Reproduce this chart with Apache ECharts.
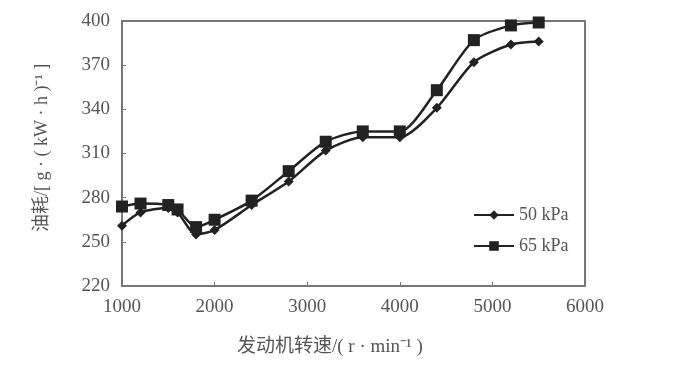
<!DOCTYPE html>
<html><head><meta charset="utf-8">
<script src="https://cdn.jsdelivr.net/npm/echarts@6/dist/echarts.min.js"></script>
<style>html,body{margin:0;padding:0;background:#fff}#c{width:673px;height:374px}</style>
</head><body><div id="c"></div>
<script>
const speeds50 = [1000, 1200, 1500, 1600, 1800, 2000, 2400, 2800, 3200, 3600, 4000, 4400, 4800, 5200, 5500];
const fuel50   = [261, 270, 273, 270, 255, 258, 275, 291, 312, 321, 321, 341, 372, 384, 386];
const speeds65 = [1000, 1200, 1500, 1600, 1800, 2000, 2400, 2800, 3200, 3600, 4000, 4400, 4800, 5200, 5500];
const fuel65   = [274, 276, 275, 272, 260, 265, 278, 298, 318, 325, 325, 353, 387, 397, 399];
const seriesNames = ['50 kPa', '65 kPa'];
const xTitle = '发动机转速/( r · min⁻¹ )';
const yTitle = '油耗/[ g · ( kW · h )⁻¹ ]';

const serif = '"Liberation Serif","DejaVu Serif",serif';
const mixed = '"Liberation Serif","Noto Sans CJK SC",serif';
const txt = '#555';
const axisCol = '#777';

const chart = echarts.init(document.getElementById('c'));
chart.setOption({
  animation: false,
  backgroundColor: '#fff',
  grid: {left: 122, right: 88, top: 21, bottom: 88, show: true, borderColor: axisCol, borderWidth: 2},
  legend: {
    orient: 'vertical', left: 468, top: 201, itemWidth: 40, itemHeight: 12, itemGap: 13,
    textStyle: {fontFamily: serif, fontSize: 18, color: txt},
    data: seriesNames
  },
  xAxis: {
    type: 'value', min: 1000, max: 6000, interval: 1000,
    axisLine: {show: true, lineStyle: {color: axisCol, width: 2}},
    axisTick: {show: true, inside: true, length: 4, lineStyle: {color: axisCol}},
    axisLabel: {fontFamily: serif, fontSize: 19, color: txt, margin: 12, formatter: v => String(v)},
    splitLine: {show: false}
  },
  yAxis: {
    type: 'value', min: 220, max: 400, interval: 30,
    axisLine: {show: true, lineStyle: {color: axisCol, width: 2}},
    axisTick: {show: true, inside: true, length: 4, lineStyle: {color: axisCol}},
    axisLabel: {fontFamily: serif, fontSize: 19, color: txt, margin: 12, formatter: v => String(v)},
    splitLine: {show: false}
  },
  graphic: [
    {type: 'text', x: 237, y: 338, style: {text: xTitle, font: '19px ' + mixed, fill: txt}},
    {type: 'text', rotation: Math.PI / 2, x: 33, y: 232, style: {text: yTitle, font: '18px ' + mixed, fill: txt, textAlign: 'left', textVerticalAlign: 'top'}}
  ],
  series: [
    {
      name: seriesNames[0], type: 'line', data: speeds50.map((s, i) => [s, fuel50[i]]),
      symbol: 'diamond', symbolSize: 10, smooth: 0.25,
      lineStyle: {color: '#222', width: 2.5}, itemStyle: {color: '#222'}
    },
    {
      name: seriesNames[1], type: 'line', data: speeds65.map((s, i) => [s, fuel65[i]]),
      symbol: 'rect', symbolSize: 12, smooth: 0.25,
      lineStyle: {color: '#222', width: 2.5}, itemStyle: {color: '#222'}
    }
  ]
});
</script></body></html>
